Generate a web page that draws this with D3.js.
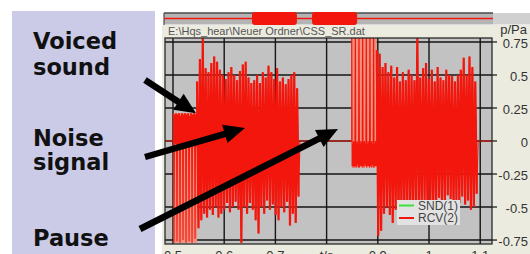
<!DOCTYPE html>
<html><head><meta charset="utf-8">
<script src="https://cdn.jsdelivr.net/npm/d3@7"></script>
<style>html,body{margin:0;padding:0;background:#fff;overflow:hidden}</style>
</head><body><svg id="c" width="530" height="254"></svg>
<script>
// ---------- data ----------
const xTicks = [0.5, 0.6, 0.7, 0.8, 0.9, 1.0, 1.1];
const xTickLabels = ["0.5", "0.6", "0.7", "t/s", "0.9", "1", "1.1"];
const yTicks = [0.75, 0.5, 0.25, 0, -0.25, -0.5, -0.75];
const yTickLabels = ["0.75", "0.5", "0.25", "0", "-0.25", "-0.5", "-0.75"];
const yUnit = "p/Pa";
const fileName = "E:\\Hqs_hear\\Neuer Ordner\\CSS_SR.dat";
const seriesNames = ["SND(1)", "RCV(2)"];

// time ranges [start, end] (s) of the signal parts
const voiced1Range = [0.501, 0.547];
const noise1Range = [0.547, 0.748];
const voiced2Range = [0.849, 0.898];
const noise2Range = [0.898, 1.096];
const silenceStart = 0.484, silenceEnd = 1.13;

// voiced sound: glottal pulses (p/Pa)
const voiced1 = [
  0.21,-0.77,0.20,-0.04,0.21,-0.02,
  0.21,-0.76,0.20,-0.05,0.21,-0.03,
  0.21,-0.77,0.19,-0.04,0.21,-0.02,
  0.21,-0.75,0.20,-0.05,0.21,-0.03,
  0.21,-0.77,0.20,-0.04,0.21,-0.02,
  0.21,-0.76,0.19,-0.05,0.21,-0.03,
  0.21,-0.77,0.20,-0.04,0.21,-0.02,
  0.21,-0.74,0.20,-0.05,0.21,-0.03
];
const voiced2 = [
  0.95,-0.19,-0.02,-0.20,0.00,-0.19,-0.01,-0.20,
  0.95,-0.19,-0.01,-0.20,0.00,-0.18,-0.02,-0.20,
  0.95,-0.20,-0.02,-0.19,0.00,-0.19,-0.01,-0.20,
  0.95,-0.19,-0.01,-0.20,0.00,-0.18,-0.02,-0.19,
  0.95,-0.20,-0.02,-0.19,0.00,-0.19,-0.01,-0.20,
  0.95,-0.19,-0.01,-0.20,0.00,-0.18,-0.02,-0.20,
  0.95,-0.20,-0.02,-0.19,0.00,-0.19,-0.01,-0.19
];
// noise signal: successive peak maxima / minima (p/Pa)
const noise1Max = [0.45,0.62,0.78,0.55,0.52,0.59,0.64,0.60,0.54,0.50,0.47,0.52,0.56,0.50,0.46,0.53,0.58,0.60,0.48,0.44,0.46,0.50,0.44,0.52,0.48,0.57,0.52,0.47,0.55,0.45,0.48,0.43,0.47,0.50,0.52,0.40];
const noise1Min = [-0.66,-0.60,-0.55,-0.58,-0.52,-0.56,-0.50,-0.58,-0.55,-0.52,-0.47,-0.54,-0.50,-0.46,-0.52,-0.77,-0.50,-0.55,-0.47,-0.52,-0.60,-0.70,-0.50,-0.55,-0.45,-0.52,-0.48,-0.56,-0.60,-0.50,-0.54,-0.46,-0.64,-0.55,-0.62,-0.42];
const noise2Max = [0.69,0.66,0.56,0.59,0.52,0.57,0.48,0.56,0.45,0.52,0.46,0.54,0.50,0.46,0.80,0.48,0.55,0.59,0.47,0.54,0.45,0.56,0.48,0.46,0.54,0.50,0.49,0.45,0.50,0.54,0.63,0.50,0.64,0.56,0.45];
const noise2Min = [-0.72,-0.68,-0.55,-0.50,-0.56,-0.62,-0.52,-0.58,-0.50,-0.55,-0.48,-0.56,-0.52,-0.47,-0.55,-0.50,-0.46,-0.53,-0.49,-0.55,-0.47,-0.43,-0.50,-0.45,-0.41,-0.44,-0.50,-0.45,-0.47,-0.42,-0.48,-0.45,-0.52,-0.50,-0.40];

// overview strip: highlighted blocks (fraction of whole file)
const overviewBlocks = [[0.2675, 0.404], [0.450, 0.587]];

// annotations
const annotationLabels = [["Voiced", "sound"], ["Noise", "signal"], ["Pause"]];
const annotationTips = [[0.545, 0.21], [0.6406, 0.098], [0.8223, 0.09]];

// ---------- layout ----------
const svg = d3.select("#c");
const P = {left: 165, right: 492, top: 38, bottom: 244};
const x = d3.scaleLinear().domain([0.4844, 1.123]).range([P.left, P.right]);
const y = d3.scaleLinear().domain([-0.78, 0.78]).range([P.bottom, P.top]);
const ov = d3.scaleLinear().domain([0, 1]).range([164, 493]);
const RED = "#f2160c", GREEN = "#3ee03e";
const font = "'Liberation Sans', Arial, sans-serif";

// backgrounds
svg.append("rect").attr("x", 12).attr("y", 11).attr("width", 143).attr("height", 243).attr("fill", "#cbcbe8");
svg.append("rect").attr("x", 162).attr("y", 25).attr("width", 368).attr("height", 229).attr("fill", "#ecebdf");

// overview strip
svg.append("rect").attr("x", 493).attr("y", 13).attr("width", 37).attr("height", 11.5).attr("fill", "#d0d0d0");
svg.append("rect").attr("x", 164).attr("y", 13).attr("width", 329).attr("height", 11.5).attr("fill", "#b4b4b4");
svg.append("line").attr("x1", 164).attr("x2", 493).attr("y1", 13).attr("y2", 13).attr("stroke", "#4a4a4a").attr("stroke-width", 1.5);
svg.append("line").attr("x1", 164).attr("x2", 164).attr("y1", 13).attr("y2", 25).attr("stroke", "#4a4a4a").attr("stroke-width", 1.2);
svg.append("line").attr("x1", 164).attr("x2", 493).attr("y1", 18.5).attr("y2", 18.5).attr("stroke", RED).attr("stroke-width", 1.4);
svg.selectAll("rect.ovb").data(overviewBlocks).enter().append("rect")
  .attr("x", d => ov(d[0])).attr("width", d => ov(d[1]) - ov(d[0]))
  .attr("y", 12).attr("height", 13).attr("rx", 3).attr("fill", RED);

// file name
svg.append("text").attr("x", 168).attr("y", 35).text(fileName)
  .attr("font-family", font).attr("font-size", 11).attr("fill", "#555");

// plot area
svg.append("rect").attr("x", P.left).attr("y", P.top).attr("width", P.right - P.left).attr("height", P.bottom - P.top).attr("fill", "#c2c2c2");
svg.append("defs").append("clipPath").attr("id", "clip").append("rect")
  .attr("x", P.left).attr("y", P.top).attr("width", P.right - P.left).attr("height", P.bottom - P.top);

// grid
svg.append("g").selectAll("line").data(xTicks).enter().append("line")
  .attr("x1", d => x(d)).attr("x2", d => x(d)).attr("y1", P.top).attr("y2", P.bottom)
  .attr("stroke", "#151515").attr("stroke-width", 1.4);
svg.append("g").selectAll("line").data(yTicks).enter().append("line")
  .attr("x1", P.left).attr("x2", P.right).attr("y1", d => y(d)).attr("y2", d => y(d))
  .attr("stroke", "#151515").attr("stroke-width", 1.4);

// signal points
function evenly(range, vals) {
  const n = vals.length;
  return vals.map((v, i) => [range[0] + (range[1] - range[0]) * i / (n - 1), v]);
}
function zigzag(range, maxs, mins) {
  const n = maxs.length, dt = (range[1] - range[0]) / n, out = [];
  for (let i = 0; i < n; i++) {
    out.push([range[0] + i * dt, maxs[i]]);
    out.push([range[0] + (i + 0.5) * dt, mins[i]]);
  }
  return out;
}
const noise1 = zigzag(noise1Range, noise1Max, noise1Min);
const noise2 = zigzag(noise2Range, noise2Max, noise2Min);
const signal = [].concat(
  [[silenceStart, 0], [voiced1Range[0], 0]],
  evenly(voiced1Range, voiced1),
  noise1,
  [[noise1Range[1], 0], [voiced2Range[0], 0]],
  evenly(voiced2Range, voiced2),
  noise2,
  [[noise2Range[1], 0], [silenceEnd, 0]]
);

const line = d3.line().x(d => x(d[0])).y(d => y(d[1]));
const g = svg.append("g").attr("clip-path", "url(#clip)");
// lighter envelope behind voiced pulses
[[voiced1Range, voiced1], [voiced2Range, voiced2]].forEach(([r, vals]) => {
  const ext = d3.extent(vals);
  g.append("rect").attr("x", x(r[0])).attr("width", x(r[1]) - x(r[0]))
    .attr("y", y(ext[1])).attr("height", y(ext[0]) - y(ext[1]))
    .attr("fill", "#f2907e");
});
g.append("path").datum(signal).attr("d", line)
  .attr("fill", "none").attr("stroke", RED).attr("stroke-width", 1.1);
[noise1, noise2].forEach(seg => {
  g.append("path").datum(seg).attr("d", line)
    .attr("fill", "none").attr("stroke", RED).attr("stroke-width", 2.2);
});

// frame
svg.append("rect").attr("x", P.left).attr("y", P.top).attr("width", P.right - P.left).attr("height", P.bottom - P.top)
  .attr("fill", "none").attr("stroke", "#2a2a2a").attr("stroke-width", 1.3);

// right axis
svg.append("g").selectAll("line").data(yTicks).enter().append("line")
  .attr("x1", P.right).attr("x2", P.right + 5).attr("y1", d => y(d)).attr("y2", d => y(d))
  .attr("stroke", "#222").attr("stroke-width", 1.3);
svg.append("g").selectAll("text").data(yTicks).enter().append("text")
  .attr("x", 528).attr("y", d => y(d) + 1.5).attr("dy", "0.35em").attr("text-anchor", "end")
  .text((d, i) => yTickLabels[i]).attr("font-family", font).attr("font-size", 13).attr("fill", "#333");
svg.append("text").attr("x", 527).attr("y", 33.5).attr("text-anchor", "end").text(yUnit)
  .attr("font-family", font).attr("font-size", 13).attr("fill", "#333");

// bottom axis labels (partially cut)
svg.append("g").selectAll("text").data(xTicks).enter().append("text")
  .attr("x", d => x(d)).attr("y", 259.5).attr("text-anchor", "middle")
  .text((d, i) => xTickLabels[i]).attr("font-family", font).attr("font-size", 13).attr("fill", "#333");

// legend
const lg = svg.append("g");
lg.append("rect").attr("x", 397).attr("y", 200).attr("width", 63).attr("height", 25).attr("fill", "#e2e2e2");
[GREEN, RED].forEach((c, i) => {
  const yy = 205.5 + i * 12.5;
  lg.append("line").attr("x1", 399).attr("x2", 414).attr("y1", yy).attr("y2", yy).attr("stroke", c).attr("stroke-width", 2);
  lg.append("text").attr("x", 418).attr("y", yy).attr("dy", "0.36em").text(seriesNames[i])
    .attr("font-family", font).attr("font-size", 12).attr("fill", "#444");
});

// annotations (text + arrows)
const labelBaselines = [[49, 75], [146, 170], [246]];
const tails = [[145, 80], [145, 157], [140, 229]];
annotationLabels.forEach((lines, i) => {
  lines.forEach((s, j) => {
    svg.append("text").attr("x", 33).attr("y", labelBaselines[i][j]).text(s)
      .attr("font-family", "'DejaVu Sans', Verdana, sans-serif").attr("font-weight", "bold")
      .attr("font-size", 22.5).attr("fill", "#111");
  });
  const [x0, y0] = tails[i];
  const x1 = x(annotationTips[i][0]), y1 = y(annotationTips[i][1]);
  const len = Math.hypot(x1 - x0, y1 - y0), ux = (x1 - x0) / len, uy = (y1 - y0) / len;
  const L = 21, W = 19;
  const bx = x1 - ux * L, by = y1 - uy * L, nx = -uy, ny = ux;
  svg.append("line").attr("x1", x0).attr("y1", y0).attr("x2", bx + ux * 3).attr("y2", by + uy * 3)
    .attr("stroke", "#000").attr("stroke-width", 6.5);
  svg.append("polygon")
    .attr("points", [[x1, y1], [bx + nx * W / 2, by + ny * W / 2], [bx - nx * W / 2, by - ny * W / 2]].map(p => p.join(",")).join(" "))
    .attr("fill", "#000");
});
</script></body></html>
